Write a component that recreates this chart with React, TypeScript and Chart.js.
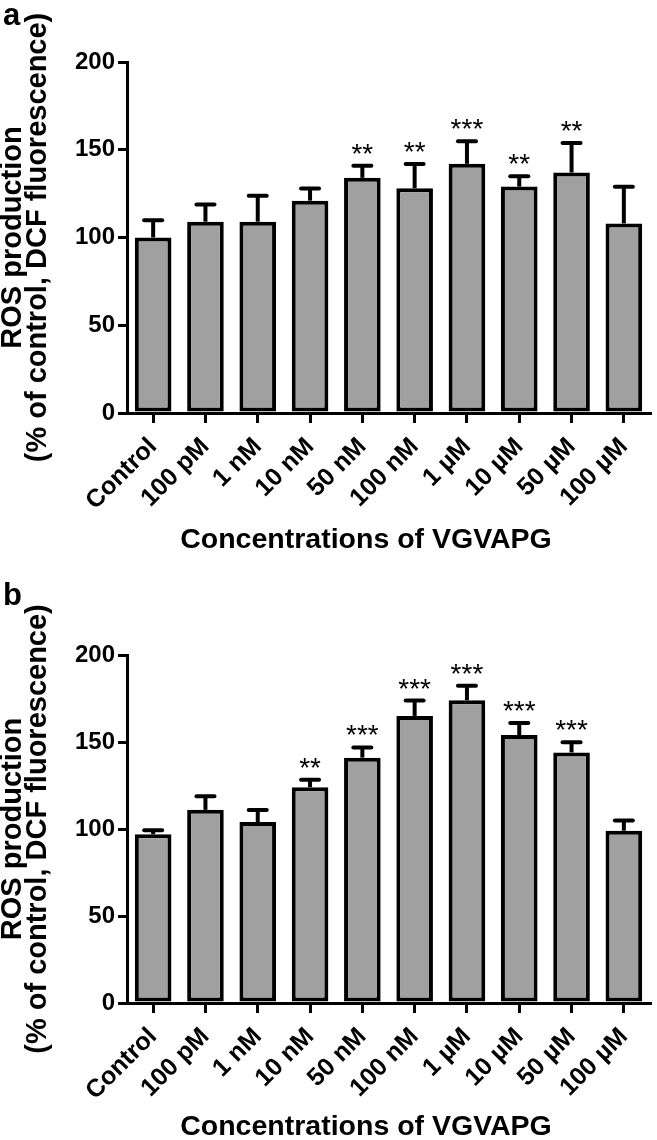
import React, { useEffect, useRef } from "react";
import { Chart, registerables } from "chart.js";

Chart.register(...registerables);

const categories = ["Control", "100 pM", "1 nM", "10 nM", "50 nM", "100 nM", "1 µM", "10 µM", "50 µM", "100 µM"];
const yTicks = [0, 50, 100, 150, 200];

const meansA = [100, 109, 109, 121, 134, 128, 142, 129, 137, 108];
const errorsA = [11, 11, 16, 8, 8, 15, 14, 7, 18, 22];
const starsA = ["", "", "", "", "**", "**", "***", "**", "**", ""];

const meansB = [97, 111, 104, 124, 141, 165, 174, 154, 144, 99];
const errorsB = [3.5, 9, 8, 5.5, 7, 10, 9.5, 8, 7, 7];
const starsB = ["", "", "", "**", "***", "***", "***", "***", "***", ""];

const yTitle = ["ROS production", "(% of control, DCF fluorescence)"];
const xTitle = "Concentrations of VGVAPG";

const FONT = "'Liberation Sans', Arial, sans-serif";
const W = 657;
const H = 570;

interface PanelSpec {
  letter: string;
  means: number[];
  errors: number[];
  stars: string[];
  padTop: number;
  xHeight: number;
  xTitleY: number;
  letterY: number;
}

function overlayPlugin(spec: PanelSpec) {
  return {
    id: "overlay" + spec.letter,
    afterDatasetsDraw(chart: any) {
      const ctx = chart.ctx;
      const x = chart.scales.x;
      const y = chart.scales.y;
      ctx.save();
      ctx.strokeStyle = "#000";
      ctx.fillStyle = "#000";
      ctx.lineWidth = 4;
      spec.means.forEach((m, i) => {
        const cx = x.getPixelForValue(i);
        const top = y.getPixelForValue(m);
        const et = y.getPixelForValue(m + spec.errors[i]);
        ctx.beginPath();
        ctx.lineCap = "butt";
        ctx.moveTo(cx, top);
        ctx.lineTo(cx, et + 2);
        ctx.stroke();
        ctx.beginPath();
        ctx.lineCap = "round";
        ctx.moveTo(cx - 9, et + 2);
        ctx.lineTo(cx + 9, et + 2);
        ctx.stroke();
        if (spec.stars[i]) {
          ctx.font = `28px ${FONT}`;
          ctx.textAlign = "center";
          ctx.textBaseline = "alphabetic";
          ctx.fillText(spec.stars[i], cx, et - 1);
        }
      });
      ctx.restore();
    },
    afterDraw(chart: any) {
      const ctx = chart.ctx;
      ctx.save();
      ctx.fillStyle = "#000";
      ctx.font = `bold 28.5px ${FONT}`;
      ctx.textAlign = "center";
      ctx.textBaseline = "middle";
      ctx.fillText(xTitle, 366, spec.xTitleY);
      ctx.font = `bold 31px ${FONT}`;
      ctx.textAlign = "left";
      ctx.textBaseline = "alphabetic";
      ctx.fillText(spec.letter, 3, spec.letterY);
      ctx.restore();
    },
  };
}

function Panel({ spec }: { spec: PanelSpec }) {
  const ref = useRef<HTMLCanvasElement | null>(null);
  useEffect(() => {
    if (!ref.current) return;
    const chart = new Chart(ref.current, {
      type: "bar",
      data: {
        labels: categories,
        datasets: [
          {
            data: spec.means,
            backgroundColor: "#a0a0a0",
            borderColor: "#000",
            borderWidth: 4,
            borderSkipped: false,
            barPercentage: 0.7,
            categoryPercentage: 1,
          },
        ],
      },
      options: {
        responsive: false,
        maintainAspectRatio: false,
        animation: false,
        layout: { padding: { top: spec.padTop, right: 7, left: 0, bottom: 0 } },
        plugins: { legend: { display: false }, tooltip: { enabled: false } },
        scales: {
          x: {
            grid: {
              display: true,
              drawOnChartArea: false,
              offset: false,
              tickLength: 10,
              lineWidth: 3,
              color: "#000",
            },
            border: { display: true, width: 3, color: "#000" },
            ticks: {
              color: "#000",
              font: { family: FONT, size: 25, weight: "bold" },
              maxRotation: 45,
              minRotation: 45,
              autoSkip: false,
              padding: 9,
            },
            afterFit: (s: any) => {
              s.height = spec.xHeight;
            },
          },
          y: {
            min: 0,
            max: 200,
            afterBuildTicks: (s: any) => {
              s.ticks = yTicks.map((v) => ({ value: v }));
            },
            ticks: {
              color: "#000",
              font: { family: FONT, size: 24, weight: "bold" },
              padding: 3,
            },
            grid: {
              display: true,
              drawOnChartArea: false,
              tickLength: 9,
              lineWidth: 3,
              color: "#000",
            },
            border: { display: true, width: 3, color: "#000" },
            title: {
              display: true,
              text: yTitle,
              color: "#000",
              font: { family: FONT, size: 29, weight: "bold", lineHeight: 0.88 },
              padding: 0,
            },
            afterFit: (s: any) => {
              s.width = 127;
            },
          },
        },
      },
      plugins: [overlayPlugin(spec)],
    } as any);
    return () => chart.destroy();
  }, [spec]);
  return <canvas ref={ref} width={W} height={H} style={{ display: "block", width: W, height: H }} />;
}

const specA: PanelSpec = {
  letter: "a",
  means: meansA,
  errors: errorsA,
  stars: starsA,
  padTop: 62,
  xHeight: 157,
  xTitleY: 540,
  letterY: 25,
};

const specB: PanelSpec = {
  letter: "b",
  means: meansB,
  errors: errorsB,
  stars: starsB,
  padTop: 85,
  xHeight: 137,
  xTitleY: 557,
  letterY: 35,
};

export default function App() {
  useEffect(() => {
    document.body.style.margin = "0";
  }, []);
  return (
    <div style={{ width: W, background: "#fff" }}>
      <Panel spec={specA} />
      <Panel spec={specB} />
    </div>
  );
}
